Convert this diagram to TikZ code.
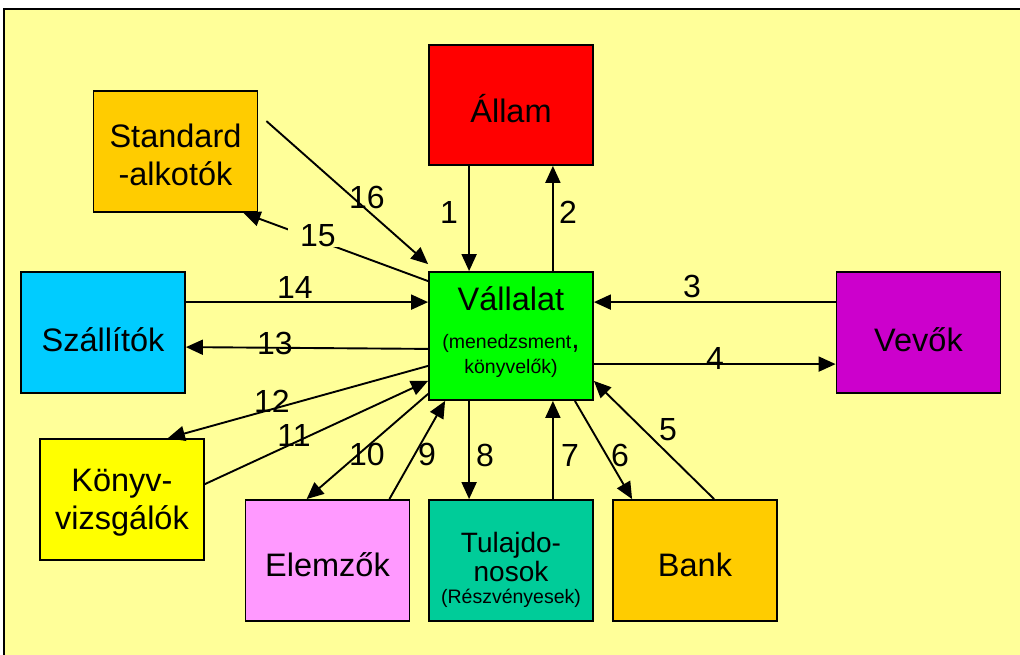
\documentclass[tikz,border=0pt]{standalone}
\usepackage{fontspec}
\setmainfont{Liberation Sans}
\usetikzlibrary{arrows.meta}
\definecolor{bgY}{HTML}{FFFF99}
\definecolor{cRed}{HTML}{FF0000}
\definecolor{cOrange}{HTML}{FFCC00}
\definecolor{cGreen}{HTML}{00FF00}
\definecolor{cCyan}{HTML}{00CCFF}
\definecolor{cMag}{HTML}{CC00CC}
\definecolor{cYel}{HTML}{FFFF00}
\definecolor{cPink}{HTML}{FF99FF}
\definecolor{cTeal}{HTML}{00CC99}
\newcommand\txtshift[2]{\raisebox{#1}[\height][\depth]{#2}}
\tikzset{
  box/.style={draw=black, line width=1.8pt, minimum width=164pt, minimum height=121pt,
    inner sep=0pt, align=center, font=\fontsize{32.5}{38}\selectfont},
  conn/.style={line width=1.9pt, -{Triangle[length=17pt,width=15pt]}},
  num/.style={font=\fontsize{32}{36}\selectfont, inner sep=1pt}
}
\begin{document}
\begin{tikzpicture}[x=1pt,y=-1pt]
\useasboundingbox (0,0) rectangle (1020,655);
\fill[bgY] (4,9) rectangle (1020,655);
\draw[line width=2pt] (4,655) -- (4,9) -- (1020,9);

\node[box,fill=cRed,minimum height=120pt] (allam) at (511,105) {\txtshift{-4pt}{Állam}};
\node[box,fill=cOrange] (std) at (175.5,151.5) {\txtshift{-3pt}{Standard}\\\txtshift{-3pt}{-alkotók}};
\node[box,fill=cGreen,minimum height=128pt] (vall) at (511,336)
  {\txtshift{4pt}{Vállalat}\\[0pt]\txtshift{4pt}{\fontsize{19.5}{22}\selectfont(menedzsment\fontsize{30}{28}\selectfont,}\\[-14pt]\txtshift{3pt}{\fontsize{19.5}{22}\selectfont könyvelők)}};
\node[box,fill=cCyan] (szall) at (103,332.5) {\txtshift{-7pt}{Szállítók}};
\node[box,fill=cMag] (vevok) at (918.5,332.5) {\txtshift{-7pt}{Vevők}};
\node[box,fill=cYel] (konyv) at (122,499.5) {\txtshift{-3pt}{Könyv-}\\\txtshift{-3pt}{vizsgálók}};
\node[box,fill=cPink] (elem) at (327.5,560.5) {\txtshift{-4pt}{Elemzők}};
\node[box,fill=cTeal,font=\fontsize{28}{29}\selectfont] (tul) at (511,560.5)
  {\txtshift{-9pt}{Tulajdo-}\\\txtshift{-9pt}{nosok}\\[-7pt]\txtshift{-9pt}{\fontsize{19.5}{22}\selectfont(Részvényesek)}};
\node[box,fill=cOrange] (bank) at (695,560.5) {\txtshift{-4pt}{Bank}};

\draw[conn] ([xshift=41pt]allam.south west) -- ([xshift=41pt]vall.north west);
\draw[conn] ([xshift=-41pt]vall.north east) -- ([xshift=-41pt]allam.south east);
\draw[conn] ([yshift=-31pt]vevok.north west) -- ([yshift=-31pt]vall.north east);
\draw[conn] ([yshift=-93pt]vall.north east) -- ([yshift=-93pt]vevok.north west);
\draw[conn] ([xshift=102pt]bank.north west) -- ([yshift=20pt]vall.south east);
\draw[conn] ([xshift=-19pt]vall.south east) -- ([xshift=20pt]bank.north west);
\draw[conn] ([xshift=-41pt]tul.north east) -- ([xshift=-41pt]vall.south east);
\draw[conn] ([xshift=41pt]vall.south west) -- ([xshift=41pt]tul.north west);
\draw[conn] ([xshift=-21pt]elem.north east) -- ([xshift=17pt]vall.south west);
\draw[conn] ([yshift=7pt]vall.south west) -- ([xshift=62pt]elem.north west);
\draw[conn] ([yshift=-46pt]konyv.north east) -- ([yshift=20pt]vall.south west);
\draw[conn] ([yshift=35pt]vall.south west) -- ([xshift=-37pt]konyv.north east);
\draw[conn] ([yshift=52pt]vall.south west) -- ([yshift=-76pt]szall.north east);
\draw[conn] ([yshift=-31pt]szall.north east) -- ([yshift=-31pt]vall.north west);
\draw[conn] ([yshift=-10pt]vall.north west) -- ([xshift=-15pt]std.south east);
\draw[conn] ([xshift=8pt,yshift=-31pt]std.north east) -- ([yshift=7pt]vall.north west);

\node[num] (l1) at (449,212) {1};
\node[num] (l2) at (568,212) {2};
\node[num] (l3) at (692,286) {3};
\node[num] (l4) at (715,358) {4};
\node[num] (l5) at (668,430) {5};
\node[num] (l6) at (620,455) {6};
\node[num] (l7) at (570,455) {7};
\node[num] (l8) at (485,455) {8};
\node[num] (l9) at (427,454) {9};
\node[num] (l10) at (367,454) {10};
\node[num] (l11) at (294,435) {11};
\node[num] (l12) at (272,401) {12};
\node[num] (l13) at (275,343) {13};
\node[num] (l14) at (295,287) {14};
\node[num,fill=bgY,inner xsep=12pt,inner ysep=0pt] (l15) at (318,236) {15};
\node[num] (l16) at (367,197) {16};
\end{tikzpicture}
\end{document}
